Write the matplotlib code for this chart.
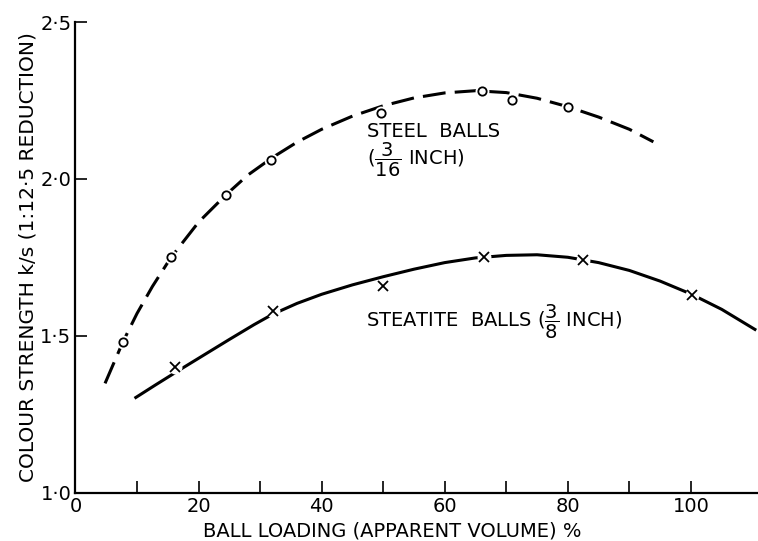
import matplotlib.pyplot as plt

# measured points
steel_x = [7.7, 15.5, 24.5, 31.8, 49.6, 66.0, 71.0, 80.0]
steel_y = [1.48, 1.75, 1.95, 2.06, 2.21, 2.28, 2.25, 2.23]
steatite_x = [16.2, 32.1, 49.9, 66.4, 82.4, 100.1]
steatite_y = [1.40, 1.58, 1.66, 1.75, 1.74, 1.63]

# hand-drawn curves
steel_curve_x = [4.8, 7.7, 10, 12.5, 15.5, 20, 24.5, 28, 32, 36, 40, 45, 50,
                 55, 60, 65, 70, 75, 80, 85, 90, 93.9]
steel_curve_y = [1.348, 1.48, 1.571, 1.657, 1.749, 1.862, 1.950, 2.012,
                 2.068, 2.117, 2.158, 2.200, 2.233, 2.258, 2.274, 2.281,
                 2.275, 2.257, 2.230, 2.197, 2.158, 2.118]
steatite_curve_x = [9.8, 13, 17, 21, 25, 29, 32, 36, 40, 45, 50, 55, 60, 65,
                    70, 75, 80, 85, 90, 95, 100, 105, 110.4]
steatite_curve_y = [1.303, 1.343, 1.392, 1.440, 1.488, 1.535, 1.568, 1.603,
                    1.632, 1.662, 1.688, 1.712, 1.733, 1.748, 1.756, 1.758,
                    1.750, 1.733, 1.708, 1.674, 1.633, 1.584, 1.520]

xticks = [0, 10, 20, 30, 40, 50, 60, 70, 80, 90, 100]
xtick_labels = ['0', '', '20', '', '40', '', '60', '', '80', '', '100']
yticks = [1.0, 1.5, 2.0, 2.5]
ytick_labels = ['1·0', '1·5', '2·0', '2·5']

plt.rcParams['font.family'] = 'DejaVu Sans'

fig = plt.figure(figsize=(7.58, 5.41), dpi=100)
ax = fig.add_axes([0.0996, 0.0896, 0.9004, 0.8697])

# curves
ax.plot(steel_curve_x, steel_curve_y, color='black', lw=2.2,
        ls=(0, (7.5, 3)), solid_capstyle='butt', zorder=2)
ax.plot(steatite_curve_x, steatite_curve_y, color='black', lw=2.2,
        solid_joinstyle='round', zorder=2)

# white halos so lines break around the markers
ax.plot(steel_x, steel_y, ls='none', marker='o', ms=10, mfc='white',
        mec='none', zorder=3)
ax.plot(steatite_x, steatite_y, ls='none', marker='o', ms=10, mfc='white',
        mec='none', zorder=3)

ax.plot(steel_x, steel_y, ls='none', marker='o', ms=6, mfc='white',
        mec='black', mew=1.3, zorder=4)
ax.plot(steatite_x, steatite_y, ls='none', marker='x', ms=7,
        mec='black', mew=1.3, zorder=4)

ax.text(47.4, 2.151, 'STEEL  BALLS', fontsize=14, ha='left', va='center')
ax.text(47.4, 2.059, r'($\mathregular{\dfrac{3}{16}}$ INCH)', fontsize=14,
        ha='left', va='center')
ax.text(47.2, 1.544, r'STEATITE  BALLS ($\mathregular{\dfrac{3}{8}}$ INCH)',
        fontsize=14, ha='left', va='center')

ax.set_xlim(0, 110.9)
ax.set_ylim(1.0, 2.5)
ax.set_xticks(xticks)
ax.set_xticklabels(xtick_labels, fontsize=14)
ax.set_yticks(yticks)
ax.set_yticklabels(ytick_labels, fontsize=14)
ax.tick_params(axis='both', direction='in', length=8.5, width=1.2,
               color='black')
ax.tick_params(axis='x', pad=3)
ax.tick_params(axis='y', pad=3)

for side in ['top', 'right']:
    ax.spines[side].set_visible(False)
for side in ['left', 'bottom']:
    ax.spines[side].set_linewidth(1.6)

ax.set_xlabel('BALL LOADING (APPARENT VOLUME) %', fontsize=14)
ax.xaxis.set_label_coords(0.464, -0.082)
ax.xaxis.label.set_va('center')
ax.set_ylabel('COLOUR STRENGTH k/s (1:12·5 REDUCTION)', fontsize=14.5)
ax.yaxis.set_label_coords(-0.056, 0.5)

fig.savefig('out.png', dpi=100)
